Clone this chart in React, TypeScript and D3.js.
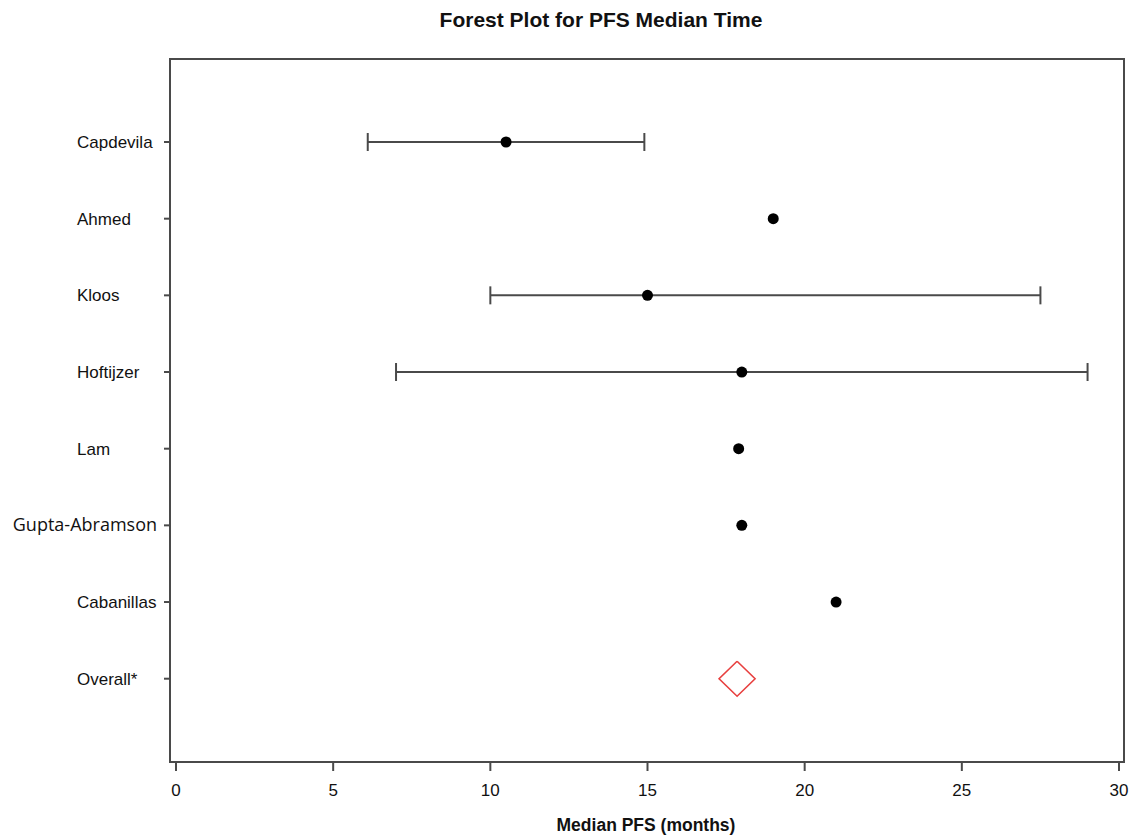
import React from "react";
import * as d3 from "d3";

const studies = ["Capdevila", "Ahmed", "Kloos", "Hoftijzer", "Lam", "Gupta-Abramson", "Cabanillas", "Overall*"];
const medians = [10.5, 19, 15, 18, 17.9, 18, 21, 17.85];
const lowerCI = [6.1, null, 10, 7, null, null, null, null];
const upperCI = [14.9, null, 27.5, 29, null, null, null, null];
const xTicks = [0, 5, 10, 15, 20, 25, 30];

const W = 1131, H = 838;
const frame = { left: 170, right: 1124, top: 59, bottom: 762 };

export default function App() {
  const x = d3.scaleLinear().domain([0, 30]).range([176, 1119]);
  const y = d3.scalePoint<string>().domain(studies).range([142, 678.7]);
  const lineColor = "#4a4a4a";
  const font = "Liberation Sans, Arial, sans-serif";
  const diamond = (cx: number, cy: number, hw: number, hh: number) =>
    d3.line()([[cx, cy - hh], [cx + hw, cy], [cx, cy + hh], [cx - hw, cy], [cx, cy - hh]]) as string;

  return (
    <svg width={W} height={H} style={{ position: "absolute", left: 0, top: 0, background: "#fff" }}>
      <rect x={0} y={0} width={W} height={H} fill="#fff" />
      <text x={601} y={27} textAnchor="middle" fontFamily={font} fontWeight="bold" fontSize={21} fill="#111">
        Forest Plot for PFS Median Time
      </text>
      <rect x={frame.left} y={frame.top} width={frame.right - frame.left} height={frame.bottom - frame.top}
        fill="none" stroke={lineColor} strokeWidth={2} />
      {xTicks.map((t) => (
        <g key={t}>
          <line x1={x(t)} x2={x(t)} y1={frame.bottom} y2={frame.bottom + 9} stroke={lineColor} strokeWidth={2} />
          <text x={x(t)} y={796} textAnchor="middle" fontFamily={font} fontSize={17} fill="#111">{t}</text>
        </g>
      ))}
      <text x={646} y={831} textAnchor="middle" fontFamily={font} fontWeight="bold" fontSize={17.5} fill="#111">
        Median PFS (months)
      </text>
      {studies.map((s, i) => {
        const cy = y(s)!;
        const isGupta = s === "Gupta-Abramson";
        const isOverall = i === studies.length - 1;
        const lo = lowerCI[i], hi = upperCI[i];
        return (
          <g key={s}>
            <line x1={frame.left - 6} x2={frame.left} y1={cy} y2={cy} stroke={lineColor} strokeWidth={2} />
            {isGupta ? (
              <text x={157} y={cy + 6} textAnchor="end" fontFamily="Open Sans, sans-serif" fontSize={18} fill="#111">{s}</text>
            ) : (
              <text x={77} y={cy + 6} textAnchor="start" fontFamily={font} fontSize={17} fill="#111">{s}</text>
            )}
            {lo != null && hi != null && (
              <g stroke={lineColor} strokeWidth={2}>
                <line x1={x(lo)} x2={x(hi)} y1={cy} y2={cy} />
                <line x1={x(lo)} x2={x(lo)} y1={cy - 9} y2={cy + 9} />
                <line x1={x(hi)} x2={x(hi)} y1={cy - 9} y2={cy + 9} />
              </g>
            )}
            {isOverall ? (
              <path d={diamond(x(medians[i]), cy, 18, 17.5)} fill="none" stroke="#e8403f" strokeWidth={1.6} />
            ) : (
              <circle cx={x(medians[i])} cy={cy} r={5.5} fill="#000" />
            )}
          </g>
        );
      })}
    </svg>
  );
}
